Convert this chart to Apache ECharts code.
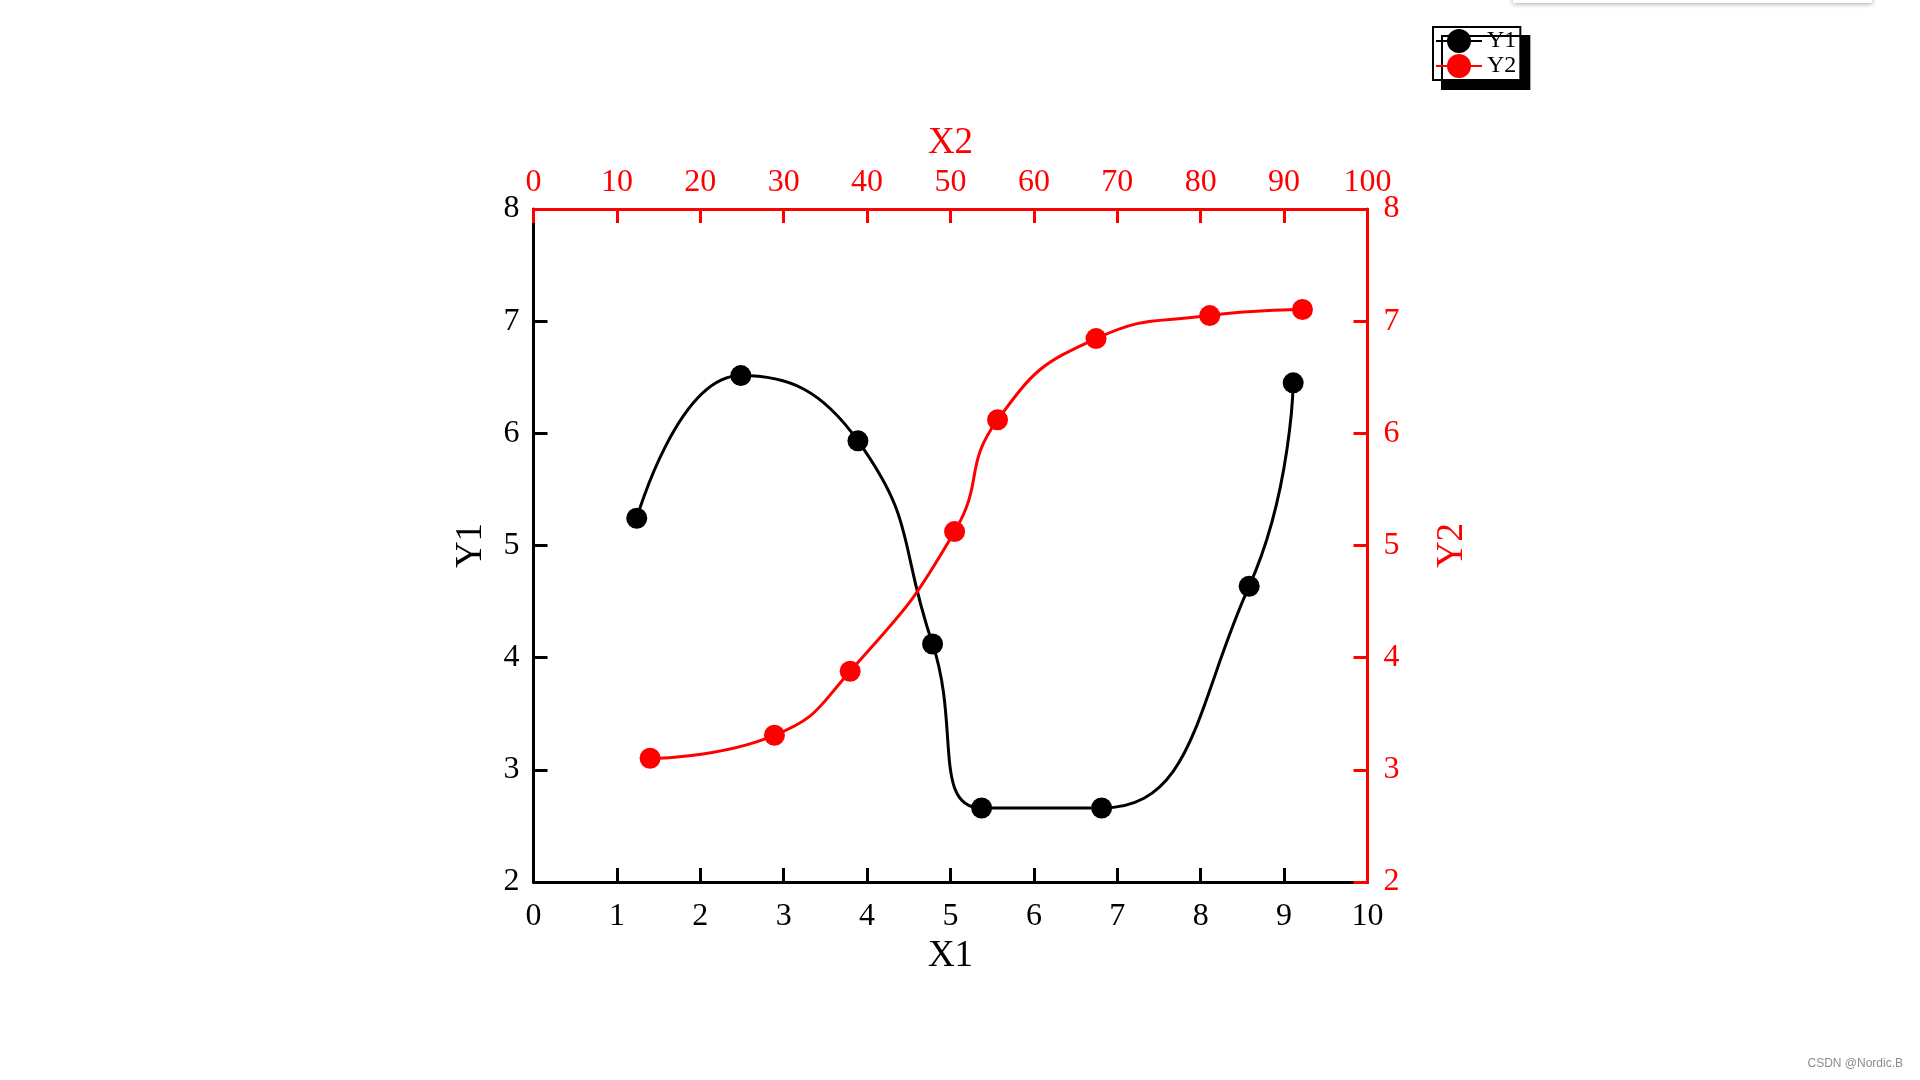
<!DOCTYPE html>
<html><head><meta charset="utf-8">
<script src="https://cdn.jsdelivr.net/npm/echarts@6/dist/echarts.min.js"></script>
<style>html,body{margin:0;padding:0;background:#fff}#c{width:1920px;height:1080px}</style>
</head><body><div id="c"></div>
<script>
// Data
const x1Values = [1.238, 2.486, 3.890, 4.785, 5.373, 6.812, 8.581, 9.109];
const y1Values = [5.243, 6.515, 5.933, 4.122, 2.660, 2.660, 4.637, 6.450];
const x2Values = [13.98, 28.89, 37.97, 50.49, 55.64, 67.45, 81.08, 92.20];
const y2Values = [3.103, 3.308, 3.879, 5.124, 6.120, 6.845, 7.050, 7.104];
const seriesNames = ['Y1', 'Y2'];
const axisNames = { x1: 'X1', x2: 'X2', y1: 'Y1', y2: 'Y2' };
const watermark = 'CSDN @Nordic.B';

const FONT = 'Liberation Serif';
const BLACK = '#000000';
const RED = '#ff0000';

function axisStyle(color, margin) {
  return {
    axisLine: { show: true, onZero: false, lineStyle: { color: color, width: 3 } },
    axisTick: { show: true, inside: true, length: 14, lineStyle: { color: color, width: 3 } },
    axisLabel: { color: color, fontFamily: FONT, fontSize: 32, margin: margin },
    splitLine: { show: false },
    nameTextStyle: { color: color, fontFamily: FONT, fontSize: 37 }
  };
}

const chart = echarts.init(document.getElementById('c'), null, { renderer: 'canvas' });
const option = {
  backgroundColor: '#ffffff',
  animation: false,
  grid: { left: 533.5, top: 209, width: 834, height: 673, containLabel: false },
  xAxis: [
    Object.assign({
      type: 'value', position: 'bottom', min: 0, max: 10, interval: 1,
      name: axisNames.x1, nameLocation: 'middle', nameGap: 55, z: 1
    }, axisStyle(BLACK, 19)),
    Object.assign({
      type: 'value', position: 'top', min: 0, max: 100, interval: 10,
      name: axisNames.x2, nameLocation: 'middle', nameGap: 43, z: 3
    }, axisStyle(RED, 10))
  ],
  yAxis: [
    Object.assign({
      type: 'value', position: 'left', min: 2, max: 8, interval: 1,
      name: axisNames.y1, nameLocation: 'middle', nameGap: 44, nameRotate: 90, z: 2
    }, axisStyle(BLACK, 14)),
    Object.assign({
      type: 'value', position: 'right', min: 2, max: 8, interval: 1,
      name: axisNames.y2, nameLocation: 'middle', nameGap: 66, nameRotate: 90, z: 3
    }, axisStyle(RED, 16))
  ],
  legend: {
    orient: 'vertical',
    left: 1433, top: 27,
    padding: [2, 4, 2, 2],
    itemWidth: 46, itemHeight: 30, itemGap: 1,
    backgroundColor: '#ffffff',
    borderColor: '#000000', borderWidth: 2,
    shadowColor: '#000000', shadowBlur: 0, shadowOffsetX: 9, shadowOffsetY: 9,
    textStyle: { fontFamily: FONT, fontSize: 24, color: '#000' },
    data: seriesNames
  },
  graphic: [
    {
      type: 'rect', left: 1513, top: -6, z: 10,
      shape: { width: 359, height: 9 },
      style: { fill: '#ffffff', shadowBlur: 5, shadowColor: 'rgba(0,0,0,0.35)', shadowOffsetY: 1 }
    },
    {
      type: 'text', right: 17, top: 1058, z: 10,
      style: { text: watermark, fill: '#8c8c8c', font: '12px "Liberation Sans", Arial, sans-serif' }
    }
  ],
  series: [
    {
      name: seriesNames[0], type: 'line', xAxisIndex: 0, yAxisIndex: 0,
      data: x1Values.map((x, i) => [x, y1Values[i]]),
      smooth: 0.5, symbol: 'circle', symbolSize: 21,
      lineStyle: { color: BLACK, width: 3 },
      itemStyle: { color: BLACK },
      z: 4
    },
    {
      name: seriesNames[1], type: 'line', xAxisIndex: 1, yAxisIndex: 1,
      data: x2Values.map((x, i) => [x, y2Values[i]]),
      smooth: 0.5, symbol: 'circle', symbolSize: 21,
      lineStyle: { color: RED, width: 3 },
      itemStyle: { color: RED },
      z: 4
    }
  ]
};
chart.setOption(option);
</script>
</body></html>
